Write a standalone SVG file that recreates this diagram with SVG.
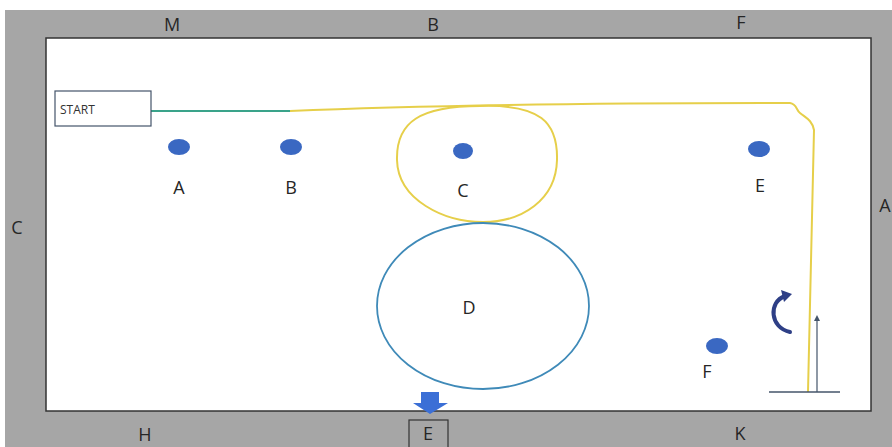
<svg xmlns="http://www.w3.org/2000/svg" width="892" height="447" viewBox="0 0 892 447">
<style>
.lbl{font-family:"Open Sans","Liberation Sans",sans-serif;font-size:18px;fill:#262626;text-anchor:middle}
.dot{fill:#3a68c2}
</style>
<defs>
<marker id="ah" markerWidth="6" markerHeight="6" refX="3" refY="3" orient="auto" markerUnits="userSpaceOnUse">
<path d="M0,0 L6,3 L0,6 Z" fill="#44546a"/>
</marker>
</defs>
<rect x="0" y="0" width="892" height="447" fill="#ffffff"/>
<rect x="5" y="10" width="887" height="437" fill="#a6a6a6"/>
<rect x="46" y="38" width="825" height="373" fill="#ffffff" stroke="#333333" stroke-width="1.5"/>
<g id="border-labels">
<text class="lbl" x="172" y="31">M</text>
<text class="lbl" x="433" y="31">B</text>
<text class="lbl" x="741" y="29">F</text>
<text class="lbl" x="17" y="234">C</text>
<text class="lbl" x="885" y="212">A</text>
<text class="lbl" x="145" y="441" dominant-baseline="auto">H</text>
<text class="lbl" x="740" y="440">K</text>
</g>
<g id="connectors" fill="none">
<path d="M151 111 L290 111" stroke="#3aa38a" stroke-width="2"/>
<path d="M290 111 C400 106 600 103 790 103 C797 104 796 110 800 113 C806 118 812 120 814 130 L808 392" stroke="#e6cf4a" stroke-width="2"/>
<path d="M480 106 C540 104 558 122 557 160 C556 200 522 222 483 222 C444 222 398 200 397 160 C396 122 420 106 480 106 Z" stroke="#e6cf4a" stroke-width="2"/>
<line x1="769" y1="392" x2="840" y2="392" stroke="#44546a" stroke-width="1.5"/>
<line x1="817" y1="392" x2="817" y2="318" stroke="#44546a" stroke-width="1.2" marker-end="url(#ah)"/>
<path d="M790 332 C770 328 768 302 785 296" stroke="#2e3f86" stroke-width="4" stroke-linecap="round"/>
<path d="M781 290 L792 294 L784 302 Z" fill="#2e3f86"/>
</g>
<g id="start">
<rect x="55" y="91" width="96" height="35" fill="#ffffff" stroke="#44546a" stroke-width="1.2"/>
<text x="60" y="114" font-family="'Open Sans','Liberation Sans',sans-serif" font-size="12" fill="#333333">START</text>
</g>
<g id="A"><ellipse class="dot" cx="179" cy="147" rx="11" ry="8"/><text class="lbl" x="179" y="194">A</text></g>
<g id="B"><ellipse class="dot" cx="291" cy="147" rx="11" ry="8"/><text class="lbl" x="291" y="194">B</text></g>
<g id="C"><ellipse class="dot" cx="463" cy="151" rx="10" ry="8"/><text class="lbl" x="463" y="197">C</text></g>
<g id="E"><ellipse class="dot" cx="759" cy="149" rx="11" ry="8"/><text class="lbl" x="760" y="192">E</text></g>
<g id="F"><ellipse class="dot" cx="717" cy="346" rx="11" ry="8"/><text class="lbl" x="707" y="378">F</text></g>
<g id="D"><ellipse cx="483" cy="306" rx="106" ry="83" fill="none" stroke="#3f8ab8" stroke-width="1.8"/><text class="lbl" x="469" y="314">D</text></g>
<g id="exit">
<path d="M421 392 L439 392 L439 403 L448 403 L430 414 L413 403 L421 403 Z" fill="#3b6fd6"/>
<rect x="409" y="420" width="39" height="30" fill="none" stroke="#333333" stroke-width="1.2"/>
<text class="lbl" x="428" y="440">E</text>
</g>
</svg>
